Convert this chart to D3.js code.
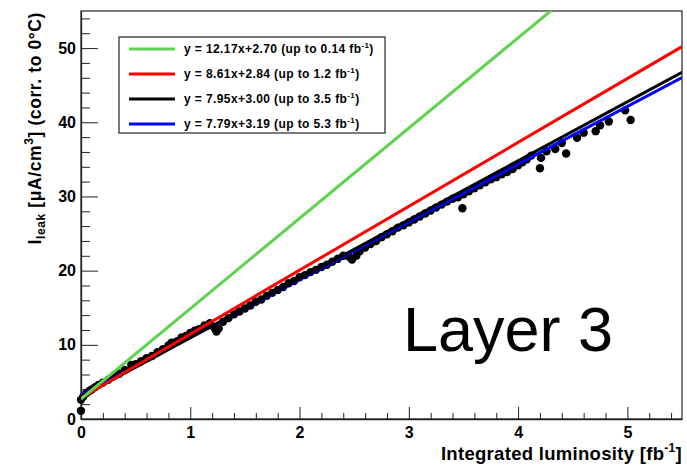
<!DOCTYPE html>
<html><head><meta charset="utf-8">
<script src="https://cdn.jsdelivr.net/npm/d3@7"></script>
<style>
body{margin:0;background:#fff}
svg{display:block}
text{font-family:"Liberation Sans",Arial,Helvetica,sans-serif}
</style>
</head><body>
<svg id="chart" width="687" height="466"></svg>
<script>
// ---- data ----
const lumi = [0.00,0.00,0.02,0.05,0.08,0.10,0.13,0.16,0.20,0.25,0.30,0.35,0.40,0.46,0.50,0.55,0.60,0.65,0.70,0.75,
  0.80,0.83,0.88,0.92,0.96,1.00,1.04,1.08,1.13,1.18,1.22,1.24,1.26,1.30,1.35,1.40,1.45,1.50,1.55,1.60,
  1.65,1.70,1.75,1.80,1.85,1.90,1.95,2.00,2.05,2.10,2.15,2.20,2.25,2.30,2.35,2.40,2.45,2.48,2.52,2.55,
  2.60,2.65,2.70,2.75,2.80,2.85,2.90,2.95,3.00,3.05,3.10,3.15,3.20,3.25,3.30,3.35,3.40,3.45,3.49,3.50,
  3.55,3.60,3.65,3.70,3.75,3.80,3.85,3.90,3.95,4.00,4.04,4.08,4.12,4.20,4.21,4.26,4.34,4.40,4.44,4.54,
  4.60,4.71,4.75,4.83,4.98,5.03];
const ileak = [1.1,2.6,3.0,3.5,3.8,4.0,4.3,4.6,4.9,5.3,5.8,6.1,6.6,7.3,7.4,7.8,8.2,8.5,9.0,9.4,
  9.9,10.3,10.5,11.0,11.2,11.6,11.9,12.1,12.6,12.9,12.3,11.8,12.2,13.1,13.6,14.1,14.5,14.9,15.3,15.8,
  16.1,16.6,17.0,17.4,17.8,18.3,18.6,19.1,19.4,19.8,20.1,20.5,20.8,21.2,21.6,22.0,21.9,21.5,22.0,22.6,
  23.1,23.6,24.0,24.5,24.9,25.3,25.8,26.1,26.5,26.9,27.3,27.7,28.1,28.5,28.9,29.3,29.7,29.9,28.4,30.3,
  30.7,31.1,31.5,31.9,32.3,32.6,33.0,33.3,33.7,34.2,34.6,35.0,35.5,33.8,35.2,36.1,36.4,37.2,35.8,37.9,
  38.6,38.8,39.6,40.1,41.6,40.3];

const fitSlopes = [12.17, 8.61, 7.95, 7.79];
const fitIntercepts = [2.70, 2.84, 3.00, 3.19];
const fitRanges = ["0.14", "1.2", "3.5", "5.3"];
const fitColors = ["#5fd350", "#ff0000", "#000000", "#0000ff"];

const xMajorTicks = [0, 1, 2, 3, 4, 5];
const yMajorTicks = [0, 10, 20, 30, 40, 50];
const xTitle = "Integrated luminosity [fb";
const layerLabel = "Layer 3";

// ---- layout ----
const svg = d3.select("#chart");
const L = 81, R = 682, T = 11, B = 419;
const x = d3.scaleLinear().domain([0, 5.5]).range([L, R]);
const y = d3.scaleLinear().domain([0, 55]).range([B, T]);

const xMinor = d3.range(0, 5.5001, 0.2).map(v => +v.toFixed(2)).filter(v => Math.abs(v - Math.round(v)) > 1e-6);
const yMinor = d3.range(0, 55.001, 2).filter(v => v % 10 !== 0);

svg.append("defs").append("clipPath").attr("id", "clip")
  .append("rect").attr("x", L).attr("y", T).attr("width", R - L).attr("height", B - T);

// frame
svg.append("rect").attr("x", L).attr("y", T).attr("width", R - L).attr("height", B - T)
  .attr("fill", "none").attr("stroke", "#333").attr("stroke-width", 1.3);

const tickFont = g => g.selectAll("text").attr("font-size", 16).attr("font-weight", "bold")
  .attr("font-family", "'Liberation Sans',Arial,sans-serif").attr("fill", "#000");

// x axis minor
svg.append("g").attr("transform", `translate(0,${B})`)
  .call(d3.axisBottom(x).tickValues(xMinor).tickSizeInner(-6).tickSizeOuter(0).tickFormat(""))
  .call(g => g.select(".domain").remove())
  .call(g => g.selectAll("line").attr("stroke", "#222"));
// x axis major
svg.append("g").attr("transform", `translate(0,${B})`)
  .call(d3.axisBottom(x).tickValues(xMajorTicks).tickSizeInner(-12).tickSizeOuter(0).tickPadding(8).tickFormat(d3.format("d")))
  .call(g => g.select(".domain").attr("stroke", "#222").attr("stroke-width", 1.3))
  .call(g => g.selectAll("line").attr("stroke", "#222"))
  .call(tickFont);

// y axis minor
svg.append("g").attr("transform", `translate(${L},0)`)
  .call(d3.axisLeft(y).tickValues(yMinor).tickSizeInner(-9).tickSizeOuter(0).tickFormat(""))
  .call(g => g.select(".domain").remove())
  .call(g => g.selectAll("line").attr("stroke", "#222"));
// y axis major
svg.append("g").attr("transform", `translate(${L},0)`)
  .call(d3.axisLeft(y).tickValues(yMajorTicks).tickSizeInner(-17).tickSizeOuter(0).tickPadding(5).tickFormat(d3.format("d")))
  .call(g => g.select(".domain").attr("stroke", "#222").attr("stroke-width", 1.3))
  .call(g => g.selectAll("line").attr("stroke", "#222"))
  .call(tickFont);

// data points
svg.append("g").selectAll("circle").data(d3.zip(lumi, ileak)).join("circle")
  .attr("cx", d => x(d[0])).attr("cy", d => y(d[1])).attr("r", 4.2).attr("fill", "#000");

// fit lines (blue, black, red, green on top)
const lineGen = d3.line().x(d => x(d[0])).y(d => y(d[1]));
const fitsG = svg.append("g").attr("clip-path", "url(#clip)");
[3, 2, 1, 0].forEach(i => {
  const pts = [[0, fitIntercepts[i]], [5.5, fitIntercepts[i] + fitSlopes[i] * 5.5]];
  fitsG.append("path").attr("d", lineGen(pts)).attr("stroke", fitColors[i])
    .attr("stroke-width", 3).attr("fill", "none");
});

// legend
const lg = svg.append("g");
lg.append("rect").attr("x", 119).attr("y", 37).attr("width", 266).attr("height", 96)
  .attr("fill", "#fff").attr("stroke", "#333").attr("stroke-width", 1.3);
const rowY = [49, 74, 99, 124];
fitSlopes.forEach((s, i) => {
  lg.append("line").attr("x1", 129).attr("x2", 175).attr("y1", rowY[i]).attr("y2", rowY[i])
    .attr("stroke", fitColors[i]).attr("stroke-width", 3);
  const t = lg.append("text").attr("x", 184).attr("y", rowY[i] + 4)
    .attr("font-size", 12).attr("font-weight", "bold").attr("letter-spacing", 0.4).attr("fill", "#000");
  t.append("tspan").text(`y = ${s.toFixed(2)}x+${fitIntercepts[i].toFixed(2)} (up to ${fitRanges[i]} fb`);
  t.append("tspan").text("-1").attr("font-size", 8).attr("dy", -5);
  t.append("tspan").text(")").attr("dy", 5);
});

// layer label
svg.append("text").attr("x", 403).attr("y", 351).attr("font-size", 63)
  .attr("fill", "#000").text(layerLabel);

// x title
const xt = svg.append("text").attr("x", 682).attr("y", 460).attr("text-anchor", "end")
  .attr("font-size", 18.5).attr("font-weight", "bold").attr("letter-spacing", 0.3).attr("fill", "#000");
xt.append("tspan").text(xTitle);
xt.append("tspan").text("-1").attr("font-size", 12).attr("dy", -8);
xt.append("tspan").text("]").attr("dy", 8);

// y title
const yt = svg.append("text").attr("transform", "translate(41,12) rotate(-90)")
  .attr("text-anchor", "end").attr("font-size", 17.5).attr("font-weight", "bold")
  .attr("letter-spacing", 0.6).attr("fill", "#000");
yt.append("tspan").text("I");
yt.append("tspan").text("leak").attr("font-size", 12).attr("dy", 4);
yt.append("tspan").text(" [\u03bcA/cm").attr("dy", -4);
yt.append("tspan").text("3").attr("font-size", 12).attr("dy", -8);
yt.append("tspan").text("] (corr. to 0\u00b0C)").attr("dy", 8);
</script>
</body></html>
